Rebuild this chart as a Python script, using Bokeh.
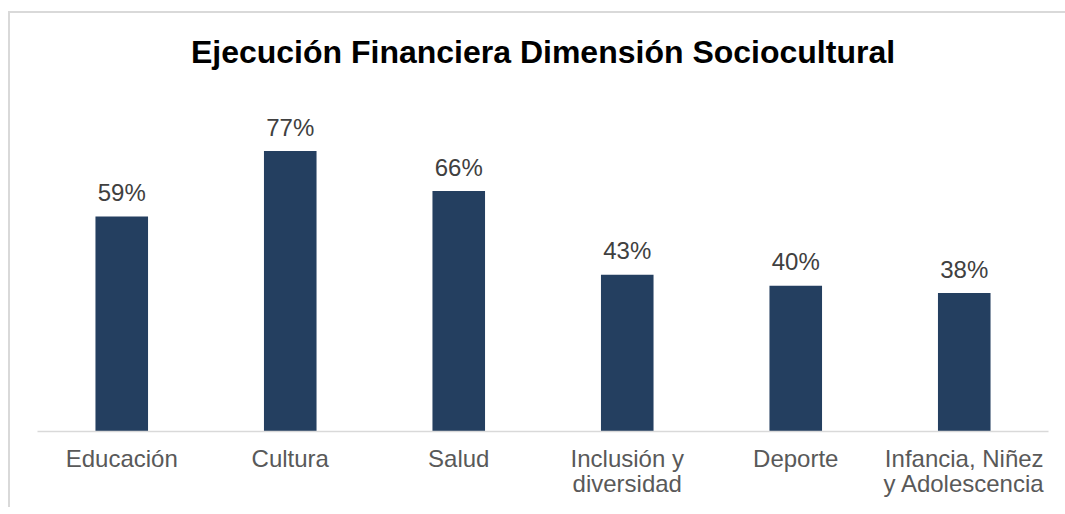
from bokeh.plotting import figure
from bokeh.models import ColumnDataSource, LabelSet, Range1d
from bokeh.core.properties import value
from bokeh.embed import file_html
from bokeh.resources import INLINE

categories = ["Educación", "Cultura", "Salud", "Inclusión y\ndiversidad", "Deporte", "Infancia, Niñez\ny Adolescencia"]
values = [59, 77, 66, 43, 40, 38]
value_labels = ["59%", "77%", "66%", "43%", "40%", "38%"]

FONT = "Liberation Sans"

src = ColumnDataSource(dict(cat=categories, val=values, lab=value_labels))

p = figure(x_range=categories, y_range=Range1d(0, 98.0), width=1057, height=496,
           output_backend="svg", toolbar_location=None,
           title="Ejecución Financiera Dimensión Sociocultural",
           min_border_left=27, min_border_right=19, min_border_bottom=78, min_border_top=61)
p.styles = {"border-top": "2px solid #D9D9D9", "border-left": "2px solid #D9D9D9",
            "margin-top": "11px", "margin-left": "8px"}

p.vbar(x="cat", top="val", width=0.312, source=src, fill_color="#243F60", line_color=None)

labels = LabelSet(x="cat", y="val", text="lab", source=src, text_align="center",
                  text_baseline="middle", y_offset=24, text_font=value(FONT),
                  text_font_size="24px", text_color="#404040")
p.add_layout(labels)

p.title.align = "center"
p.title.text_font = FONT
p.title.text_font_size = "32px"
p.title.text_font_style = "bold"
p.title.text_color = "#000000"

p.yaxis.visible = False
p.xgrid.grid_line_color = None
p.ygrid.grid_line_color = None
p.outline_line_color = None

ax = p.xaxis[0]
ax.major_tick_line_color = None
ax.minor_tick_line_color = None
ax.axis_line_color = "#D9D9D9"
ax.axis_line_width = 1.5
ax.major_label_text_font = FONT
ax.major_label_text_font_size = "24px"
ax.major_label_text_color = "#595959"
ax.major_label_standoff = 7
ax.major_label_text_line_height = 0.94

open("out.html", "w").write(file_html(p, INLINE))
